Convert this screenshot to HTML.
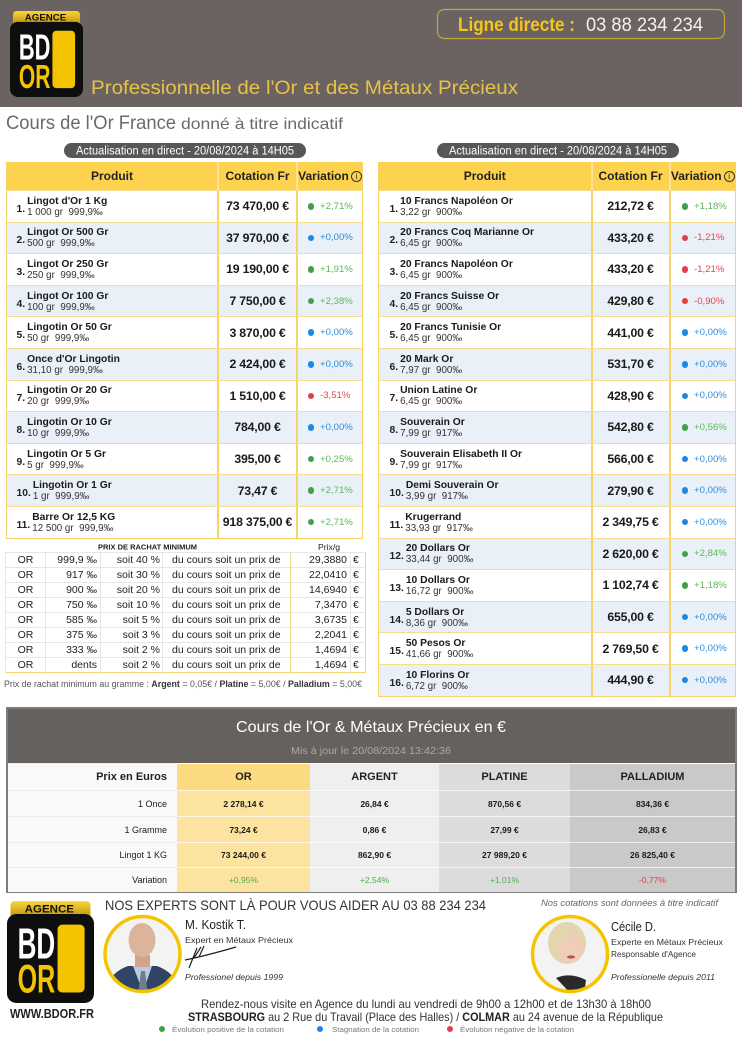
<!DOCTYPE html>
<html><head><meta charset="utf-8">
<style>
*{margin:0;padding:0}
body{width:742px;height:1038px;position:relative;background:#fff;font-family:"Liberation Sans",sans-serif;overflow:hidden}
.tb{position:absolute;top:162px;border-left:1.5px solid #f7d46b;border-right:1.5px solid #f7d46b;border-bottom:1.5px solid #f7d46b}
.hd{display:flex;height:28px;background:#fdd24f;font-weight:bold;font-size:12px;color:#222}
.hd>div{display:flex;align-items:center;justify-content:center;box-sizing:border-box}
.hd>div+div{border-left:2px solid #fde39a}
.row{display:flex;height:31.6px;box-sizing:border-box;border-top:1px solid #f7dd90;background:#fff}
.row:nth-child(odd){background:#eaf0f7}
.c1{display:flex;align-items:center;box-sizing:border-box}
.c2{border-left:2px solid #f7d46b;display:flex;align-items:center;justify-content:center;font-weight:bold;font-size:12.3px;color:#1a1a1a;box-sizing:border-box;letter-spacing:-0.2px}
.c3{border-left:2px solid #f7d46b;display:flex;align-items:center;font-size:9.6px;box-sizing:border-box}
.num{font-weight:bold;font-size:10.3px;padding-top:6px;margin-right:2px;color:#222}
.nm{font-size:9.8px;line-height:11px;color:#333;padding-top:1px}
.nm b{font-size:10.3px;color:#1a1a1a}
.dot{display:inline-block;width:6.5px;height:6.5px;border-radius:50%;margin-right:6px}
.g .dot{background:#43a047}.g span{color:#5cb85c}
.b .dot{background:#1e88e5}.b span{color:#2b8fe0}
.r .dot{background:#e04048}.r span{color:#dd4a4a}
.L{left:6px}.L .c1{width:210px;padding-left:9.5px}.L .c2{width:79px}.L .c3{width:66px;padding-left:9.5px}
.R{left:378px}.R .c1{width:211.5px;padding-left:10.5px}.R .c2{width:78px}.R .c3{width:66.5px;padding-left:11px}
.info{display:inline-block;width:9px;height:9px;border:1.2px solid #333;border-radius:50%;font-size:8px;line-height:9px;text-align:center;font-weight:normal;margin-left:2px}
.rc{position:absolute;left:5px;top:551.5px;width:360px;border-collapse:collapse;table-layout:fixed;border:1.5px solid #f7d46b;font-size:10.5px;color:#222}
.rc td{height:14px;line-height:14px;border-top:1px solid #e6e6e6;border-left:1px solid #e6e6e6;padding:0;white-space:nowrap;overflow:hidden}
.rc td.a{text-align:center}
.rc td.b2{text-align:right;padding-right:3px}
.rc td.c{text-align:right;padding-right:2px}
.rc td.d{padding-left:9px}
.rc td.e{text-align:right;padding-right:3px;border-left:1px solid #f3d98a}
.rc td.f{padding-left:2px}
.pn{position:absolute;left:6px;top:707px;width:731px;height:186px;border:2px solid #7d7d7d;box-sizing:border-box;background:#fff}
.pn .dk{height:54px;background:#65615f}
.mt{width:727px;border-collapse:collapse;table-layout:fixed}
.mt td{text-align:center;font-size:8.5px;font-weight:bold;color:#1a1a1a;border-top:1px solid rgba(255,255,255,0.7);padding:0}
.mt td.l{text-align:right;padding-right:10px;background:#f9f9f9;font-weight:normal;font-size:9px;border-top:1px solid #ececec}
.mt tr.h td{font-size:11px;font-weight:bold;color:#222}
.mt td.o{background:#fde3a0}.mt tr.h td.o{background:#fcda82}
.mt td.s{background:#efefef}.mt td.p{background:#dcdcdc}.mt td.q{background:#c9c9c9}
.mt tr.v td{font-weight:normal}
</style></head><body>

<div class="tb L">
 <div class="hd"><div style="width:210px">Produit</div><div style="width:79px">Cotation Fr</div><div style="width:66px">Variation<span class="info">i</span></div></div>
 <div class="row"><div class="c1"><span class="num">1.</span><span class="nm"><b>Lingot d'Or 1 Kg</b><br>1 000 gr&nbsp; 999,9‰</span></div><div class="c2">73 470,00 €</div><div class="c3 g"><i class="dot"></i><span>+2,71%</span></div></div>
 <div class="row"><div class="c1"><span class="num">2.</span><span class="nm"><b>Lingot Or 500 Gr</b><br>500 gr&nbsp; 999,9‰</span></div><div class="c2">37 970,00 €</div><div class="c3 b"><i class="dot"></i><span>+0,00%</span></div></div>
 <div class="row"><div class="c1"><span class="num">3.</span><span class="nm"><b>Lingot Or 250 Gr</b><br>250 gr&nbsp; 999,9‰</span></div><div class="c2">19 190,00 €</div><div class="c3 g"><i class="dot"></i><span>+1,91%</span></div></div>
 <div class="row"><div class="c1"><span class="num">4.</span><span class="nm"><b>Lingot Or 100 Gr</b><br>100 gr&nbsp; 999,9‰</span></div><div class="c2">7 750,00 €</div><div class="c3 g"><i class="dot"></i><span>+2,38%</span></div></div>
 <div class="row"><div class="c1"><span class="num">5.</span><span class="nm"><b>Lingotin Or 50 Gr</b><br>50 gr&nbsp; 999,9‰</span></div><div class="c2">3 870,00 €</div><div class="c3 b"><i class="dot"></i><span>+0,00%</span></div></div>
 <div class="row"><div class="c1"><span class="num">6.</span><span class="nm"><b>Once d'Or Lingotin</b><br>31,10 gr&nbsp; 999,9‰</span></div><div class="c2">2 424,00 €</div><div class="c3 b"><i class="dot"></i><span>+0,00%</span></div></div>
 <div class="row"><div class="c1"><span class="num">7.</span><span class="nm"><b>Lingotin Or 20 Gr</b><br>20 gr&nbsp; 999,9‰</span></div><div class="c2">1 510,00 €</div><div class="c3 r"><i class="dot"></i><span>-3,51%</span></div></div>
 <div class="row"><div class="c1"><span class="num">8.</span><span class="nm"><b>Lingotin Or 10 Gr</b><br>10 gr&nbsp; 999,9‰</span></div><div class="c2">784,00 €</div><div class="c3 b"><i class="dot"></i><span>+0,00%</span></div></div>
 <div class="row"><div class="c1"><span class="num">9.</span><span class="nm"><b>Lingotin Or 5 Gr</b><br>5 gr&nbsp; 999,9‰</span></div><div class="c2">395,00 €</div><div class="c3 g"><i class="dot"></i><span>+0,25%</span></div></div>
 <div class="row"><div class="c1"><span class="num">10.</span><span class="nm"><b>Lingotin Or 1 Gr</b><br>1 gr&nbsp; 999,9‰</span></div><div class="c2">73,47 €</div><div class="c3 g"><i class="dot"></i><span>+2,71%</span></div></div>
 <div class="row"><div class="c1"><span class="num">11.</span><span class="nm"><b>Barre Or 12,5 KG</b><br>12 500 gr&nbsp; 999,9‰</span></div><div class="c2">918 375,00 €</div><div class="c3 g"><i class="dot"></i><span>+2,71%</span></div></div>
</div>

<div class="tb R">
 <div class="hd"><div style="width:211.5px">Produit</div><div style="width:78px">Cotation Fr</div><div style="width:66.5px">Variation<span class="info">i</span></div></div>
 <div class="row"><div class="c1"><span class="num">1.</span><span class="nm"><b>10 Francs Napoléon Or</b><br>3,22 gr&nbsp; 900‰</span></div><div class="c2">212,72 €</div><div class="c3 g"><i class="dot"></i><span>+1,18%</span></div></div>
 <div class="row"><div class="c1"><span class="num">2.</span><span class="nm"><b>20 Francs Coq Marianne Or</b><br>6,45 gr&nbsp; 900‰</span></div><div class="c2">433,20 €</div><div class="c3 r"><i class="dot"></i><span>-1,21%</span></div></div>
 <div class="row"><div class="c1"><span class="num">3.</span><span class="nm"><b>20 Francs Napoléon Or</b><br>6,45 gr&nbsp; 900‰</span></div><div class="c2">433,20 €</div><div class="c3 r"><i class="dot"></i><span>-1,21%</span></div></div>
 <div class="row"><div class="c1"><span class="num">4.</span><span class="nm"><b>20 Francs Suisse Or</b><br>6,45 gr&nbsp; 900‰</span></div><div class="c2">429,80 €</div><div class="c3 r"><i class="dot"></i><span>-0,90%</span></div></div>
 <div class="row"><div class="c1"><span class="num">5.</span><span class="nm"><b>20 Francs Tunisie Or</b><br>6,45 gr&nbsp; 900‰</span></div><div class="c2">441,00 €</div><div class="c3 b"><i class="dot"></i><span>+0,00%</span></div></div>
 <div class="row"><div class="c1"><span class="num">6.</span><span class="nm"><b>20 Mark Or</b><br>7,97 gr&nbsp; 900‰</span></div><div class="c2">531,70 €</div><div class="c3 b"><i class="dot"></i><span>+0,00%</span></div></div>
 <div class="row"><div class="c1"><span class="num">7.</span><span class="nm"><b>Union Latine Or</b><br>6,45 gr&nbsp; 900‰</span></div><div class="c2">428,90 €</div><div class="c3 b"><i class="dot"></i><span>+0,00%</span></div></div>
 <div class="row"><div class="c1"><span class="num">8.</span><span class="nm"><b>Souverain Or</b><br>7,99 gr&nbsp; 917‰</span></div><div class="c2">542,80 €</div><div class="c3 g"><i class="dot"></i><span>+0,56%</span></div></div>
 <div class="row"><div class="c1"><span class="num">9.</span><span class="nm"><b>Souverain Elisabeth II Or</b><br>7,99 gr&nbsp; 917‰</span></div><div class="c2">566,00 €</div><div class="c3 b"><i class="dot"></i><span>+0,00%</span></div></div>
 <div class="row"><div class="c1"><span class="num">10.</span><span class="nm"><b>Demi Souverain Or</b><br>3,99 gr&nbsp; 917‰</span></div><div class="c2">279,90 €</div><div class="c3 b"><i class="dot"></i><span>+0,00%</span></div></div>
 <div class="row"><div class="c1"><span class="num">11.</span><span class="nm"><b>Krugerrand</b><br>33,93 gr&nbsp; 917‰</span></div><div class="c2">2 349,75 €</div><div class="c3 b"><i class="dot"></i><span>+0,00%</span></div></div>
 <div class="row"><div class="c1"><span class="num">12.</span><span class="nm"><b>20 Dollars Or</b><br>33,44 gr&nbsp; 900‰</span></div><div class="c2">2 620,00 €</div><div class="c3 g"><i class="dot"></i><span>+2,84%</span></div></div>
 <div class="row"><div class="c1"><span class="num">13.</span><span class="nm"><b>10 Dollars Or</b><br>16,72 gr&nbsp; 900‰</span></div><div class="c2">1 102,74 €</div><div class="c3 g"><i class="dot"></i><span>+1,18%</span></div></div>
 <div class="row"><div class="c1"><span class="num">14.</span><span class="nm"><b>5 Dollars Or</b><br>8,36 gr&nbsp; 900‰</span></div><div class="c2">655,00 €</div><div class="c3 b"><i class="dot"></i><span>+0,00%</span></div></div>
 <div class="row"><div class="c1"><span class="num">15.</span><span class="nm"><b>50 Pesos Or</b><br>41,66 gr&nbsp; 900‰</span></div><div class="c2">2 769,50 €</div><div class="c3 b"><i class="dot"></i><span>+0,00%</span></div></div>
 <div class="row"><div class="c1"><span class="num">16.</span><span class="nm"><b>10 Florins Or</b><br>6,72 gr&nbsp; 900‰</span></div><div class="c2">444,90 €</div><div class="c3 b"><i class="dot"></i><span>+0,00%</span></div></div>
</div>

<table class="rc">
<colgroup><col style="width:40px"><col style="width:55px"><col style="width:62px"><col style="width:128px"><col style="width:60px"><col style="width:15px"></colgroup>
<tr><td class="a">OR</td><td class="b2">999,9 ‰</td><td class="c">soit 40 %</td><td class="d">du cours soit un prix de</td><td class="e">29,3880</td><td class="f">€</td></tr>
<tr><td class="a">OR</td><td class="b2">917 ‰</td><td class="c">soit 30 %</td><td class="d">du cours soit un prix de</td><td class="e">22,0410</td><td class="f">€</td></tr>
<tr><td class="a">OR</td><td class="b2">900 ‰</td><td class="c">soit 20 %</td><td class="d">du cours soit un prix de</td><td class="e">14,6940</td><td class="f">€</td></tr>
<tr><td class="a">OR</td><td class="b2">750 ‰</td><td class="c">soit 10 %</td><td class="d">du cours soit un prix de</td><td class="e">7,3470</td><td class="f">€</td></tr>
<tr><td class="a">OR</td><td class="b2">585 ‰</td><td class="c">soit 5 %</td><td class="d">du cours soit un prix de</td><td class="e">3,6735</td><td class="f">€</td></tr>
<tr><td class="a">OR</td><td class="b2">375 ‰</td><td class="c">soit 3 %</td><td class="d">du cours soit un prix de</td><td class="e">2,2041</td><td class="f">€</td></tr>
<tr><td class="a">OR</td><td class="b2">333 ‰</td><td class="c">soit 2 %</td><td class="d">du cours soit un prix de</td><td class="e">1,4694</td><td class="f">€</td></tr>
<tr><td class="a">OR</td><td class="b2">dents</td><td class="c">soit 2 %</td><td class="d">du cours soit un prix de</td><td class="e">1,4694</td><td class="f">€</td></tr>
</table>

<div class="pn">
 <div class="dk"></div>
 <table class="mt">
 <colgroup><col style="width:169px"><col style="width:133px"><col style="width:129px"><col style="width:131px"><col style="width:165px"></colgroup>
 <tr class="h" style="height:27px"><td class="l" style="font-weight:bold;font-size:11px;color:#222">Prix en Euros</td><td class="o">OR</td><td class="s">ARGENT</td><td class="p">PLATINE</td><td class="q">PALLADIUM</td></tr>
 <tr style="height:26px"><td class="l">1 Once</td><td class="o">2 278,14 €</td><td class="s">26,84 €</td><td class="p">870,56 €</td><td class="q">834,36 €</td></tr>
 <tr style="height:26px"><td class="l">1 Gramme</td><td class="o">73,24 €</td><td class="s">0,86 €</td><td class="p">27,99 €</td><td class="q">26,83 €</td></tr>
 <tr style="height:25px"><td class="l">Lingot 1 KG</td><td class="o">73 244,00 €</td><td class="s">862,90 €</td><td class="p">27 989,20 €</td><td class="q">26 825,40 €</td></tr>
 <tr class="v" style="height:24px"><td class="l">Variation</td><td class="o" style="color:#4cae4c">+0,95%</td><td class="s" style="color:#4cae4c">+2,54%</td><td class="p" style="color:#4cae4c">+1,01%</td><td class="q" style="color:#e0403a">-0,77%</td></tr>
 </table>
</div>

<svg style="position:absolute;left:0;top:0" width="742" height="1038" viewBox="0 0 742 1038" font-family="Liberation Sans, sans-serif">
 <defs>
  <linearGradient id="gd" x1="0" y1="0" x2="0" y2="1"><stop offset="0" stop-color="#fad43a"/><stop offset="1" stop-color="#c49510"/></linearGradient>
  <clipPath id="cm"><circle cx="142.5" cy="954" r="37"/></clipPath>
  <clipPath id="cw"><circle cx="570" cy="954" r="37"/></clipPath>
 </defs>
 <!-- header -->
 <rect x="0" y="0" width="742" height="107" fill="#6b6361"/>
 <svg x="10" y="10" width="73" height="87" viewBox="0 0 74 88" preserveAspectRatio="none">
  <path d="M3,14 V5 Q3,1 7,1 H67 Q71,1 71,5 V14 Z" fill="url(#gd)"/>
  <text x="36" y="10.5" font-size="9.5" font-weight="bold" text-anchor="middle" fill="#111" textLength="42" lengthAdjust="spacingAndGlyphs">AGENCE</text>
  <rect x="0" y="12" width="74" height="76" rx="8" fill="#0e0e0e"/>
  <text x="9" y="50" font-family="Liberation Sans Narrow, Liberation Sans, sans-serif" font-weight="bold" font-size="37" fill="#fff" textLength="32" lengthAdjust="spacingAndGlyphs">BD</text>
  <text x="9" y="79" font-family="Liberation Sans Narrow, Liberation Sans, sans-serif" font-weight="bold" font-size="34" fill="#f5c400" textLength="32" lengthAdjust="spacingAndGlyphs">OR</text>
  <rect x="43" y="21" width="23" height="58" rx="4" fill="#f5c400"/>
 </svg>
 <rect x="437.5" y="9.5" width="287" height="29" rx="7" fill="none" stroke="#c9a43c" stroke-width="1.2"/>
 <text x="458" y="31" font-size="19" font-weight="bold" fill="#f5c518" textLength="117" lengthAdjust="spacingAndGlyphs">Ligne directe :</text>
 <text x="586" y="31" font-size="19" fill="#f4f1ec" textLength="117" lengthAdjust="spacingAndGlyphs">03 88 234 234</text>
 <text x="91" y="94" font-size="19.5" fill="#e8c246" textLength="427" lengthAdjust="spacingAndGlyphs">Professionnelle de l'Or et des Métaux Précieux</text>
 <!-- section title -->
 <text x="6" y="129" font-size="19.5" fill="#6a6a6a" textLength="170" lengthAdjust="spacingAndGlyphs">Cours de l'Or France</text>
 <text x="181" y="129" font-size="16" fill="#6a6a6a" textLength="162" lengthAdjust="spacingAndGlyphs">donné à titre indicatif</text>
 <rect x="64" y="143" width="242" height="15" rx="7.5" fill="#575757"/>
 <text x="185" y="154.5" font-size="11.5" fill="#fff" text-anchor="middle" textLength="218" lengthAdjust="spacingAndGlyphs">Actualisation en direct - 20/08/2024 à 14H05</text>
 <rect x="437" y="143" width="242" height="15" rx="7.5" fill="#575757"/>
 <text x="558" y="154.5" font-size="11.5" fill="#fff" text-anchor="middle" textLength="218" lengthAdjust="spacingAndGlyphs">Actualisation en direct - 20/08/2024 à 14H05</text>
 <!-- rachat -->
 <text x="147.5" y="549.5" font-size="7.5" font-weight="bold" fill="#222" text-anchor="middle" textLength="99" lengthAdjust="spacingAndGlyphs">PRIX DE RACHAT MINIMUM</text>
 <text x="318" y="550" font-size="8" fill="#222" textLength="22" lengthAdjust="spacingAndGlyphs">Prix/g</text>
 <text x="4" y="687" font-size="9" fill="#555" textLength="358" lengthAdjust="spacingAndGlyphs">Prix de rachat minimum au gramme : <tspan font-weight="bold" fill="#333">Argent</tspan> = 0,05€ / <tspan font-weight="bold" fill="#333">Platine</tspan> = 5,00€ / <tspan font-weight="bold" fill="#333">Palladium</tspan> = 5,00€</text>
 <!-- panel title -->
 <text x="371" y="732" font-size="16" fill="#fff" text-anchor="middle" textLength="270" lengthAdjust="spacingAndGlyphs">Cours de l'Or &amp; Métaux Précieux en €</text>
 <text x="371" y="754" font-size="10" fill="#aaa8a6" text-anchor="middle" textLength="160" lengthAdjust="spacingAndGlyphs">Mis à jour le 20/08/2024 13:42:36</text>
 <!-- footer logo -->
 <svg x="7" y="900" width="87" height="103" viewBox="0 0 74 88" preserveAspectRatio="none">
  <path d="M3,14 V5 Q3,1 7,1 H67 Q71,1 71,5 V14 Z" fill="url(#gd)"/>
  <text x="36" y="10.5" font-size="9.5" font-weight="bold" text-anchor="middle" fill="#111" textLength="42" lengthAdjust="spacingAndGlyphs">AGENCE</text>
  <rect x="0" y="12" width="74" height="76" rx="8" fill="#0e0e0e"/>
  <text x="9" y="50" font-family="Liberation Sans Narrow, Liberation Sans, sans-serif" font-weight="bold" font-size="37" fill="#fff" textLength="32" lengthAdjust="spacingAndGlyphs">BD</text>
  <text x="9" y="79" font-family="Liberation Sans Narrow, Liberation Sans, sans-serif" font-weight="bold" font-size="34" fill="#f5c400" textLength="32" lengthAdjust="spacingAndGlyphs">OR</text>
  <rect x="43" y="21" width="23" height="58" rx="4" fill="#f5c400"/>
 </svg>
 <text x="10" y="1018" font-size="12.5" font-weight="bold" fill="#222" textLength="84" lengthAdjust="spacingAndGlyphs">WWW.BDOR.FR</text>
 <text x="105" y="910" font-size="14" fill="#333" textLength="381" lengthAdjust="spacingAndGlyphs">NOS EXPERTS SONT LÀ POUR VOUS AIDER AU 03 88 234 234</text>
 <text x="541" y="906" font-size="9" font-style="italic" fill="#666" textLength="177" lengthAdjust="spacingAndGlyphs">Nos cotations sont données à titre indicatif</text>
 <!-- man -->
 <g clip-path="url(#cm)">
  <rect x="100" y="910" width="90" height="90" fill="#f3f3f3"/>
  <path d="M104,995 Q108,973 128,966 L157,966 Q177,973 181,995 Z" fill="#2f4466"/>
  <polygon points="133,966 152,966 143,992" fill="#b9cbe3"/>
  <polygon points="141,971 145,971 148,995 138,995" fill="#6f7d8c"/>
  <rect x="135" y="955" width="15" height="12" fill="#cfa58b"/>
  <ellipse cx="142" cy="940" rx="13.5" ry="17" fill="#dcb49b"/>
 </g>
 <circle cx="142.5" cy="954" r="37.5" fill="none" stroke="#f5c400" stroke-width="3.5"/>
 <text x="185" y="929" font-size="13" fill="#222" textLength="61" lengthAdjust="spacingAndGlyphs">M. Kostik T.</text>
 <text x="185" y="943" font-size="8.5" fill="#333" textLength="108" lengthAdjust="spacingAndGlyphs">Expert en Métaux Précieux</text>
 <path d="M189,968 L197,948 M194,958 L201,947 M199,957 L204,946 M185,960 Q205,956 236,947" fill="none" stroke="#222" stroke-width="1.2"/>
 <text x="185" y="980" font-size="8.5" font-style="italic" fill="#333" textLength="98" lengthAdjust="spacingAndGlyphs">Professionel depuis 1999</text>
 <!-- woman -->
 <g clip-path="url(#cw)">
  <rect x="530" y="915" width="80" height="80" fill="#f3f3f3"/>
  <path d="M546,995 Q550,974 570,970 Q590,974 594,995 Z" fill="#f5f5f5"/>
  <path d="M556,978 Q570,972 586,980 L584,995 L572,995 Z" fill="#2a2a2a"/>
  <ellipse cx="567" cy="943" rx="19" ry="21" fill="#e4d5ae"/>
  <ellipse cx="571" cy="948" rx="12" ry="15" fill="#efcdb8"/>
  <path d="M556,938 Q565,926 583,934 Q575,930 560,944 Z" fill="#e4d5ae"/>
  <ellipse cx="571" cy="957" rx="4" ry="1.6" fill="#c0504e"/>
 </g>
 <circle cx="570" cy="954" r="37.5" fill="none" stroke="#f5c400" stroke-width="3.5"/>
 <text x="611" y="931" font-size="13" fill="#222" textLength="45" lengthAdjust="spacingAndGlyphs">Cécile D.</text>
 <text x="611" y="945" font-size="8.5" fill="#333" textLength="112" lengthAdjust="spacingAndGlyphs">Experte en Métaux Précieux</text>
 <text x="611" y="957" font-size="8.5" fill="#333" textLength="85" lengthAdjust="spacingAndGlyphs">Responsable d'Agence</text>
 <text x="611" y="980" font-size="8.5" font-style="italic" fill="#333" textLength="104" lengthAdjust="spacingAndGlyphs">Professionelle depuis 2011</text>
 <!-- address -->
 <text x="426" y="1008" font-size="12" fill="#333" text-anchor="middle" textLength="450" lengthAdjust="spacingAndGlyphs">Rendez-nous visite en Agence du lundi au vendredi de 9h00 a 12h00 et de 13h30 à 18h00</text>
 <text x="188" y="1021" font-size="12" fill="#333" textLength="475" lengthAdjust="spacingAndGlyphs"><tspan font-weight="bold" fill="#222">STRASBOURG</tspan> au 2 Rue du Travail (Place des Halles) / <tspan font-weight="bold" fill="#222">COLMAR</tspan> au 24 avenue de la République</text>
 <circle cx="162" cy="1029" r="3" fill="#43a047"/>
 <text x="172" y="1032" font-size="7.5" fill="#777" textLength="112" lengthAdjust="spacingAndGlyphs">Évolution positive de la cotation</text>
 <circle cx="320" cy="1029" r="3" fill="#1e88e5"/>
 <text x="332" y="1032" font-size="7.5" fill="#777" textLength="87" lengthAdjust="spacingAndGlyphs">Stagnation de la cotation</text>
 <circle cx="450" cy="1029" r="3" fill="#e04048"/>
 <text x="460" y="1032" font-size="7.5" fill="#777" textLength="114" lengthAdjust="spacingAndGlyphs">Évolution négative de la cotation</text>
</svg>
</body></html>
